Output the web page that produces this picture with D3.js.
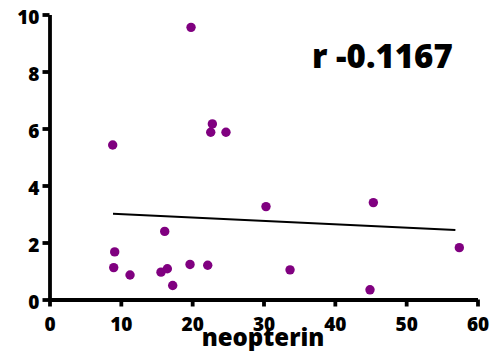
<!DOCTYPE html>
<html>
<head>
<meta charset="utf-8">
<script src="https://cdn.jsdelivr.net/npm/d3@7"></script>
<style>
  html, body { margin: 0; padding: 0; background: #fff; }
  svg { display: block; }
  text { font-family: "Open Sans", sans-serif; font-weight: 800; fill: #000; }
</style>
</head>
<body>
<svg id="chart" width="495" height="351"></svg>
<script>
// Neopterin (x) against the measured value (y)
const neopterin = [19.84, 8.86, 22.83, 22.6, 24.74, 16.15, 9.14, 9.0, 11.29, 15.63,
                   16.52, 17.27, 19.7, 22.18, 30.35, 45.4, 57.45, 33.72, 44.93];
const values    = [9.55, 5.42, 6.16, 5.87, 5.87, 2.39, 1.67, 1.12, 0.86, 0.96,
                   1.08, 0.49, 1.23, 1.2, 3.26, 3.40, 1.82, 1.04, 0.34];

// Linear fit drawn across the data range
const fitX = [8.9, 56.9];
const fitY = [3.01, 2.44];

const xTicks = [0, 10, 20, 30, 40, 50, 60];
const yTicks = [0, 2, 4, 6, 8, 10];
const xLabel = "neopterin";
const rLabel = "r -0.1167";

const svg = d3.select("#chart");
const x = d3.scaleLinear().domain([0, 60]).range([49.5, 477.5]);
const y = d3.scaleLinear().domain([0, 10]).range([299.5, 14.5]);

// Axes
const xAxis = svg.append("g").attr("transform", `translate(0,${y(0)})`)
  .call(d3.axisBottom(x).tickValues(xTicks).tickSize(7).tickPadding(11).tickSizeOuter(0));
const yAxis = svg.append("g").attr("transform", `translate(${x(0)},0)`)
  .call(d3.axisLeft(y).tickValues(yTicks).tickSize(7).tickPadding(3).tickSizeOuter(0));

[xAxis, yAxis].forEach(g => {
  g.select(".domain").attr("stroke", "#000").attr("stroke-width", 3.8);
  g.selectAll(".tick line").attr("stroke", "#000").attr("stroke-width", 3.8);
  g.selectAll(".tick text").style("font-size", "19px").style("font-family", "'Open Sans', sans-serif")
    .style("font-weight", "800").attr("fill", "#000");
});
xAxis.selectAll(".tick text").attr("dy", "0.71em");
yAxis.selectAll(".tick text").attr("dy", "0.45em");

// Regression line
svg.append("line")
  .attr("x1", x(fitX[0])).attr("y1", y(fitY[0]))
  .attr("x2", x(fitX[1])).attr("y2", y(fitY[1]))
  .attr("stroke", "#000").attr("stroke-width", 2);

// Points
svg.append("g").selectAll("circle")
  .data(neopterin.map((v, i) => [v, values[i]]))
  .join("circle")
  .attr("cx", d => x(d[0]))
  .attr("cy", d => y(d[1]))
  .attr("r", 4.7)
  .attr("fill", "#800080");

// Axis title
svg.append("text")
  .attr("x", 263).attr("y", 346)
  .attr("text-anchor", "middle")
  .style("font-size", "24px")
  .text(xLabel);

// Correlation annotation
svg.append("text")
  .attr("x", 312).attr("y", 68)
  .style("font-size", "33px")
  .text(rLabel);
</script>
</body>
</html>
